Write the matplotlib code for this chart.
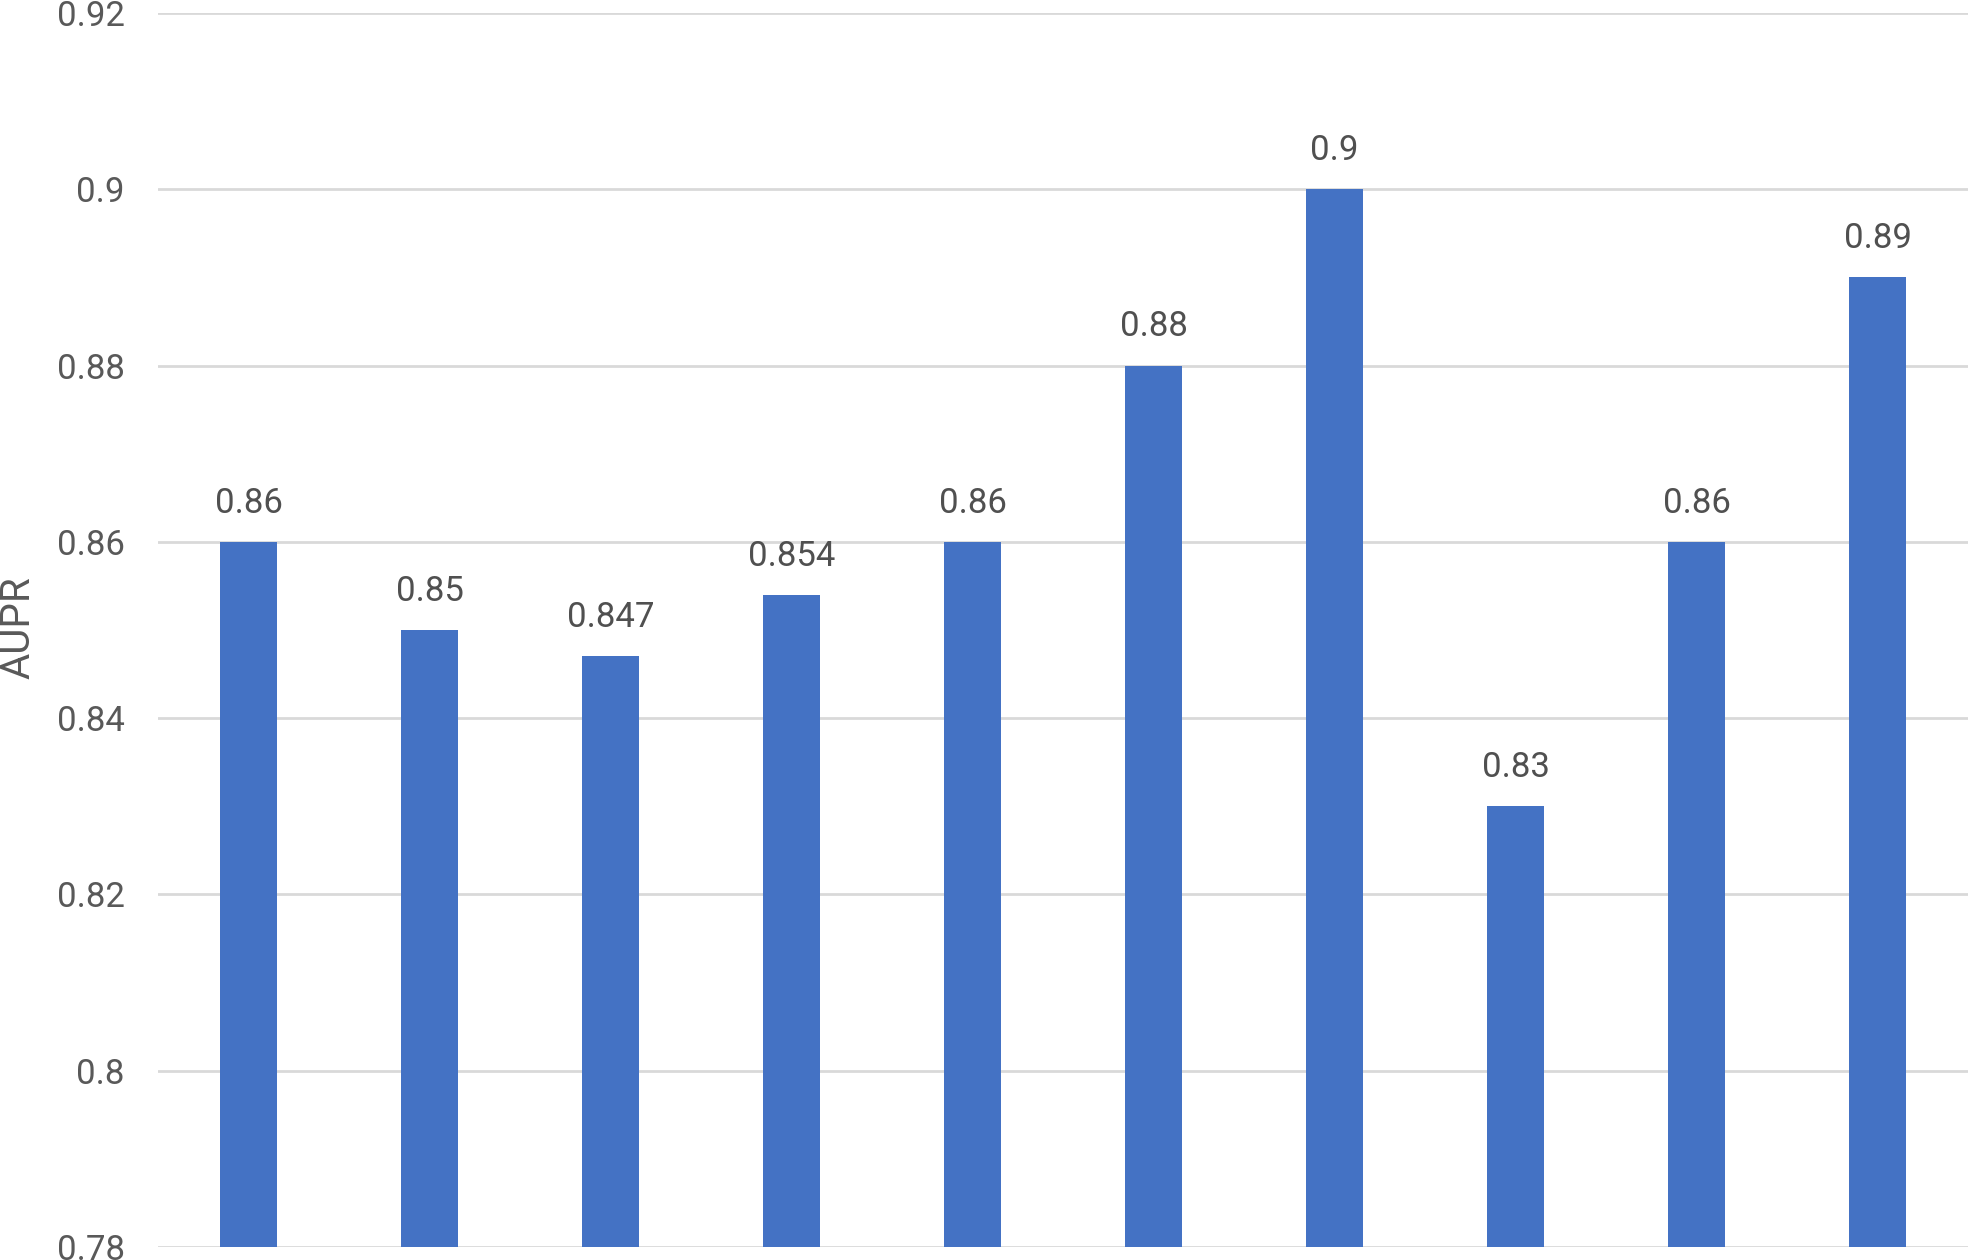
import matplotlib
matplotlib.use("Agg")
import matplotlib.pyplot as plt
import numpy as np

categories = ["1", "2", "3", "4", "5", "6", "7", "8", "9", "10"]
values = [0.86, 0.85, 0.847, 0.854, 0.86, 0.88, 0.9, 0.83, 0.86, 0.89]
labels = ["0.86", "0.85", "0.847", "0.854", "0.86", "0.88", "0.9", "0.83", "0.86", "0.89"]
yticks = [0.78, 0.8, 0.82, 0.84, 0.86, 0.88, 0.9, 0.92]
ytick_labels = ["0.78", "0.8", "0.82", "0.84", "0.86", "0.88", "0.9", "0.92"]

plt.rcParams['font.family'] = ['Roboto', 'DejaVu Sans']
W, H = 1969, 1260
fig = plt.figure(figsize=(W / 100, H / 100), dpi=100)
ax = fig.add_axes([158 / W, 1 - 1247 / H, (1968 - 158) / W, (1247 - 13) / H])

x = np.arange(len(categories))
ax.bar(x, [v - 0.78 for v in values], bottom=0.78, width=0.31, color="#4472C4", zorder=3)
for xi, v, lab in zip(x, values, labels):
    ax.annotate(lab, (xi, v), xytext=(0, 16), textcoords="offset points",
                ha="center", va="bottom", fontsize=25, color="#505050")

ax.set_xlim(-0.5, len(categories) - 0.5)
ax.set_ylim(0.78, 0.92)
ax.set_yticks(yticks)
ax.set_yticklabels(ytick_labels, fontsize=25, color="#595959")
ax.set_xticks([])
ax.tick_params(axis="y", length=0, pad=24)
ax.grid(axis="y", color="#d9d9d9", linewidth=2, zorder=0)
for s in ax.spines.values():
    s.set_visible(False)

fig.text(18 / W, 1 - 628 / H, "AUPR", rotation=90, ha="center", va="center",
         fontsize=29, color="#595959")

fig.savefig("out.png", dpi=100)
